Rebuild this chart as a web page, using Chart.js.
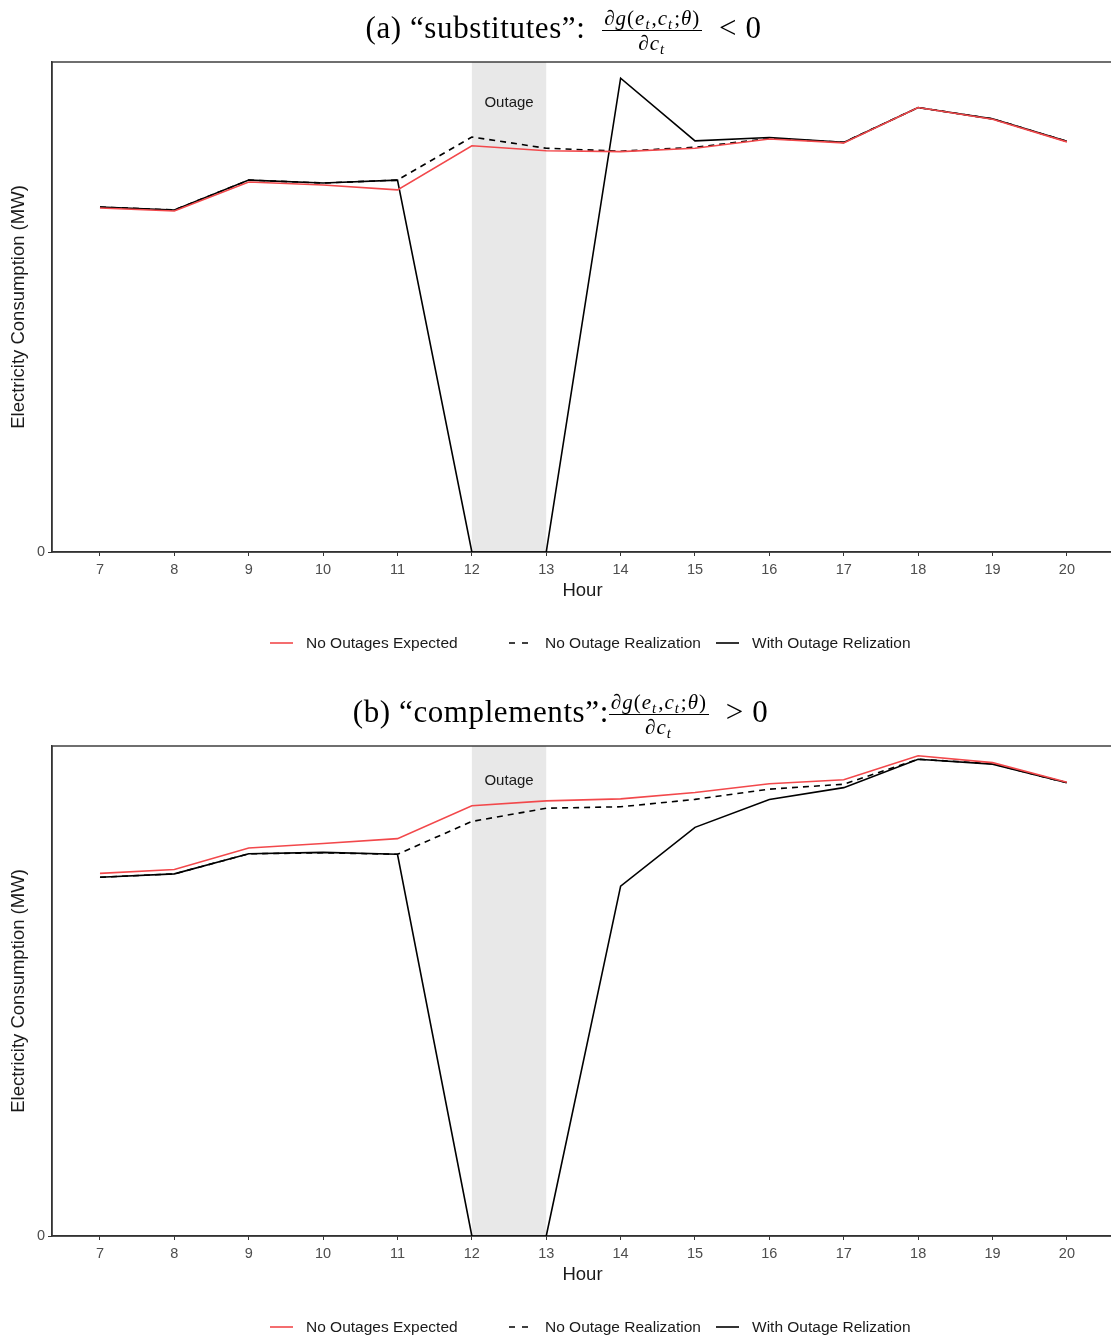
<!DOCTYPE html>
<html>
<head>
<meta charset="utf-8">
<script src="https://cdn.jsdelivr.net/npm/chart.js@4.4.1/dist/chart.umd.min.js"></script>
<style>
  html, body { margin: 0; padding: 0; background: #fff; }
  body { width: 1111px; height: 1339px; overflow: hidden; position: relative; }
  .panel { position: absolute; left: 0; width: 1125px; height: 684px; }
  .panel canvas { position: absolute; left: 0; top: 0; }
  .ttl {
    position: absolute; left: 0; top: 7px; width: 1127px; text-align: center;
    font: 31px "Liberation Serif", "DejaVu Serif", serif; color: #000; white-space: nowrap;
    letter-spacing: 0.6px;
  }
  .frac { display: inline-block; vertical-align: middle; text-align: center; font-size: 21px; line-height: 1.05; letter-spacing: 1px; }
  .frac .num { display: block; border-bottom: 1px solid #000; padding: 0 2px 1px; }
  .frac .den { display: block; padding-top: 1px; }
  .frac sub { font-size: 70%; font-style: italic; vertical-align: -0.3em; line-height: 0; margin-right: 1px; }
</style>
</head>
<body>
<div class="panel" style="top:0">
  <canvas id="subs" width="1125" height="684"></canvas>
  <div class="ttl">(a) “substitutes”:&nbsp; <span class="frac"><span class="num">∂<i>g</i>(<i>e</i><sub>t</sub>,<i>c</i><sub>t</sub>;<i>θ</i>)</span><span class="den">∂<i>c</i><sub>t</sub></span></span>&nbsp; &lt; 0</div>
</div>
<div class="panel" style="top:684px">
  <canvas id="comp" width="1125" height="684"></canvas>
  <div class="ttl" style="left:-3px">(b) “complements”:<span class="frac"><span class="num">∂<i>g</i>(<i>e</i><sub>t</sub>,<i>c</i><sub>t</sub>;<i>θ</i>)</span><span class="den">∂<i>c</i><sub>t</sub></span></span>&nbsp; &gt; 0</div>
</div>
<script>
const hours = [7, 8, 9, 10, 11, 12, 13, 14, 15, 16, 17, 18, 19, 20];
const outageHours = [12, 13];
const yTicks = [0];
const seriesLabels = ['No Outages Expected', 'No Outage Realization', 'With Outage Relization'];

// (a) substitutes
const subsExpected   = [70.2, 69.6, 75.5, 74.9, 73.9, 82.9, 81.9, 81.7, 82.4, 84.3, 83.5, 90.7, 88.3, 83.7];
const subsNoOutage   = [70.4, 69.8, 75.9, 75.3, 75.9, 84.7, 82.4, 81.8, 82.6, 84.4, 83.6, 90.7, 88.4, 83.8];
const subsWithOutage = [70.4, 69.8, 75.9, 75.3, 75.9, 0, 0, 96.7, 83.9, 84.6, 83.6, 90.7, 88.4, 83.8];

// (b) complements
const compExpected   = [74.0, 74.8, 79.2, 80.1, 81.1, 87.8, 88.8, 89.2, 90.5, 92.3, 93.1, 98.0, 96.6, 92.6];
const compNoOutage   = [73.2, 73.9, 78.0, 78.2, 77.9, 84.6, 87.3, 87.6, 89.1, 91.2, 92.2, 97.3, 96.4, 92.5];
const compWithOutage = [73.2, 73.9, 78.0, 78.3, 77.9, 0, 0, 71.4, 83.4, 89.1, 91.5, 97.3, 96.3, 92.5];

const RED = '#f2484b';
const INK = '#333333';
const SANS = '"Liberation Sans", Arial, sans-serif';
const lineStyles = [
  { color: RED, dash: [] },
  { color: '#000', dash: [6, 5] },
  { color: '#000', dash: [] }
];

// shaded outage window, panel frame and bottom legend
const panelDecor = {
  id: 'panelDecor',
  beforeDatasetsDraw(chart, args, opts) {
    const { ctx, chartArea: a, scales: { x } } = chart;
    const x0 = x.getPixelForValue(outageHours[0]);
    const x1 = x.getPixelForValue(outageHours[1]);
    ctx.save();
    ctx.fillStyle = '#e8e8e8';
    ctx.fillRect(x0, a.top, x1 - x0, a.bottom - a.top);
    ctx.fillStyle = '#1a1a1a';
    ctx.font = '15px ' + SANS;
    ctx.textAlign = 'center';
    ctx.textBaseline = 'middle';
    ctx.fillText('Outage', (x0 + x1) / 2, a.top + opts.labelOffset);
    ctx.strokeStyle = INK;
    ctx.lineWidth = 1.4;
    ctx.strokeRect(a.left, a.top, a.right - a.left, a.bottom - a.top);
    ctx.restore();
  },
  afterDraw(chart) {
    const { ctx } = chart;
    const keyX = [270, 509, 716];
    const y = 643;
    ctx.save();
    ctx.font = '15.5px ' + SANS;
    ctx.textBaseline = 'middle';
    ctx.textAlign = 'left';
    seriesLabels.forEach((label, i) => {
      ctx.beginPath();
      ctx.strokeStyle = lineStyles[i].color;
      ctx.lineWidth = 1.6;
      ctx.setLineDash(lineStyles[i].dash.length ? [6, 7] : []);
      ctx.moveTo(keyX[i], y);
      ctx.lineTo(keyX[i] + 23, y);
      ctx.stroke();
      ctx.setLineDash([]);
      ctx.fillStyle = '#1a1a1a';
      ctx.fillText(label, keyX[i] + 36, y + 1);
    });
    ctx.restore();
  }
};

function makePanel(id, series, labelOffset) {
  const ctx = document.getElementById(id).getContext('2d');
  return new Chart(ctx, {
    type: 'line',
    data: {
      datasets: series.map((vals, i) => ({
        label: seriesLabels[i],
        data: hours.map((h, k) => ({ x: h, y: vals[k] })),
        borderColor: lineStyles[i].color,
        borderDash: lineStyles[i].dash,
        borderWidth: 1.6,
        pointRadius: 0,
        tension: 0,
        fill: false
      }))
    },
    options: {
      responsive: false,
      animation: false,
      layout: { padding: { top: 62, right: 12, left: 0, bottom: 0 } },
      plugins: {
        legend: { display: false },
        tooltip: { enabled: false },
        panelDecor: { labelOffset: labelOffset }
      },
      scales: {
        x: {
          type: 'linear',
          min: 6.355,
          max: 20.62,
          afterBuildTicks: s => { s.ticks = hours.map(h => ({ value: h })); },
          afterFit: s => { s.height = 132; },
          grid: { drawOnChartArea: false, drawTicks: true, tickLength: 4, color: INK },
          border: { display: true, color: INK, width: 1.4 },
          ticks: { autoSkip: false, maxRotation: 0, padding: 5, color: '#4d4d4d', font: { family: SANS, size: 14.5 } },
          title: { display: true, text: 'Hour', color: '#1a1a1a', font: { family: SANS, size: 18.5 }, padding: { top: 0, bottom: 82 } }
        },
        y: {
          min: 0,
          max: 100,
          afterBuildTicks: s => { s.ticks = yTicks.map(v => ({ value: v })); },
          afterFit: s => { s.width = 52; },
          grid: { drawOnChartArea: false, drawTicks: true, tickLength: 4, color: INK },
          border: { display: true, color: INK, width: 1.4 },
          ticks: { padding: 3, color: '#4d4d4d', font: { family: SANS, size: 14.5 } },
          title: { display: true, text: 'Electricity Consumption (MW)', color: '#1a1a1a', font: { family: SANS, size: 18.5 }, padding: { top: 8, bottom: 0 } }
        }
      }
    },
    plugins: [panelDecor]
  });
}

makePanel('subs', [subsExpected, subsNoOutage, subsWithOutage], 41);
makePanel('comp', [compExpected, compNoOutage, compWithOutage], 35);
</script>
</body>
</html>
